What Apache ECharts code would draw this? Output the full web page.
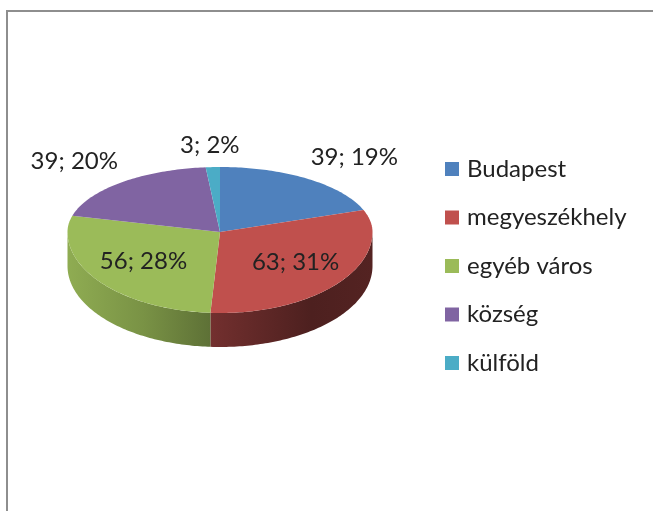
<!DOCTYPE html>
<html>
<head>
<meta charset="utf-8">
<script src="https://cdn.jsdelivr.net/npm/echarts@6/dist/echarts.min.js"></script>
<style>
  html, body { margin: 0; padding: 0; background: #ffffff; }
  #wrap { position: relative; width: 653px; height: 511px; overflow: hidden; }
  #frame { position: absolute; left: 6px; top: 10px; width: 700px; height: 600px;
           border-left: 2px solid #8e8e8e; border-top: 2px solid #8e8e8e; }
  #chart { position: absolute; left: 0; top: 0; width: 653px; height: 511px; }
</style>
</head>
<body>
<div id="wrap">
  <div id="frame"></div>
  <div id="chart"></div>
</div>
<script>
// ---- data ----
const categories = ['Budapest', 'megyeszékhely', 'egyéb város', 'község', 'külföld'];
const values = [39, 63, 56, 39, 3];
const percentLabels = [19, 31, 28, 20, 2];
const colors = ['#4F81BD', '#C0504D', '#9BBB59', '#8064A2', '#4BACC6'];

// ---- layout / style ----
const FONT = 'Lato, "Open Sans", sans-serif';
const geo = { cx: 220, cy: 232, rx: 152.5, ryBack: 65, ryFront: 81, depth: 34 };

const total = values.reduce((a, b) => a + b, 0);

function shade(hex, f) {
  const n = parseInt(hex.slice(1), 16);
  const r = Math.round(((n >> 16) & 255) * f);
  const g = Math.round(((n >> 8) & 255) * f);
  const b = Math.round((n & 255) * f);
  return 'rgb(' + r + ',' + g + ',' + b + ')';
}

function pt(deg, dy) {
  const t = deg * Math.PI / 180;
  const c = Math.cos(t);
  const ry = c >= 0 ? geo.ryBack : geo.ryFront;
  return [geo.cx + geo.rx * Math.sin(t), geo.cy - ry * c + (dy || 0)];
}

function arc(a, b, dy) {
  const pts = [];
  const n = Math.max(2, Math.ceil(Math.abs(b - a)));
  for (let k = 0; k <= n; k++) pts.push(pt(a + (b - a) * k / n, dy));
  return pts;
}

function makeRender(i) {
  return function (params, api) {
    let before = 0;
    for (let k = 0; k < i; k++) before += values[k];
    const start = before / total * 360;
    const end = start + api.value(0) / total * 360;
    const color = colors[i];
    const children = [];

    // front side wall
    const a = Math.max(start, 90), b = Math.min(end, 270);
    if (b > a) {
      const top = arc(a, b, 0);
      const bottom = arc(b, a, geo.depth);
      children.push({
        type: 'polygon',
        z2: 1,
        shape: { points: top.concat(bottom) },
        style: {
          fill: {
            type: 'linear', global: true,
            x: geo.cx - geo.rx, y: 0, x2: geo.cx + geo.rx, y2: 0,
            colorStops: [
              { offset: 0, color: shade(color, 0.92) },
              { offset: 0.25, color: shade(color, 0.78) },
              { offset: 0.5, color: shade(color, 0.58) },
              { offset: 0.8, color: shade(color, 0.40) },
              { offset: 1, color: shade(color, 0.44) }
            ]
          }
        }
      });
    }

    // top face
    children.push({
      type: 'polygon',
      z2: 10,
      shape: { points: [[geo.cx, geo.cy]].concat(arc(start, end, 0)) },
      style: { fill: color }
    });

    // data label (inside for big slices, outside "best fit" for small ones)
    const share = api.value(0) / total;
    const mid = (start + end) / 2;
    const t = mid * Math.PI / 180;
    const s = Math.sin(t);
    let lx, ly, align;
    if (share >= 0.25) {
      const p = pt(mid, 0);
      lx = geo.cx + (p[0] - geo.cx) * 0.62;
      ly = geo.cy + (p[1] - geo.cy) * 0.62;
      align = 'center';
    } else {
      const e = pt(mid, 0);
      lx = e[0] + (s >= 0 ? 3 : -3);
      ly = e[1] - 21.5;
      align = s > 0.3 ? 'left' : (s < -0.3 ? 'right' : 'center');
    }
    children.push({
      type: 'text',
      z2: 20,
      x: lx, y: ly,
      style: {
        text: api.value(0) + '; ' + percentLabels[i] + '%',
        font: '24px ' + FONT,
        fill: '#222222',
        align: align,
        verticalAlign: 'middle'
      }
    });

    return { type: 'group', children: children };
  };
}

const chart = echarts.init(document.getElementById('chart'), null, { renderer: 'canvas' });
chart.setOption({
  backgroundColor: 'transparent',
  animation: false,
  legend: {
    orient: 'vertical',
    left: 445,
    top: 154,
    padding: 0,
    itemWidth: 14,
    itemHeight: 14,
    itemGap: 18.5,
    icon: 'rect',
    data: categories,
    textStyle: {
      fontFamily: FONT,
      fontSize: 24,
      lineHeight: 30,
      color: '#222222',
      padding: [0, 0, 0, 3]
    }
  },
  series: categories.map((name, i) => ({
    type: 'custom',
    name: name,
    coordinateSystem: 'none',
    itemStyle: { color: colors[i] },
    data: [values[i]],
    renderItem: makeRender(i)
  }))
});
</script>
</body>
</html>
